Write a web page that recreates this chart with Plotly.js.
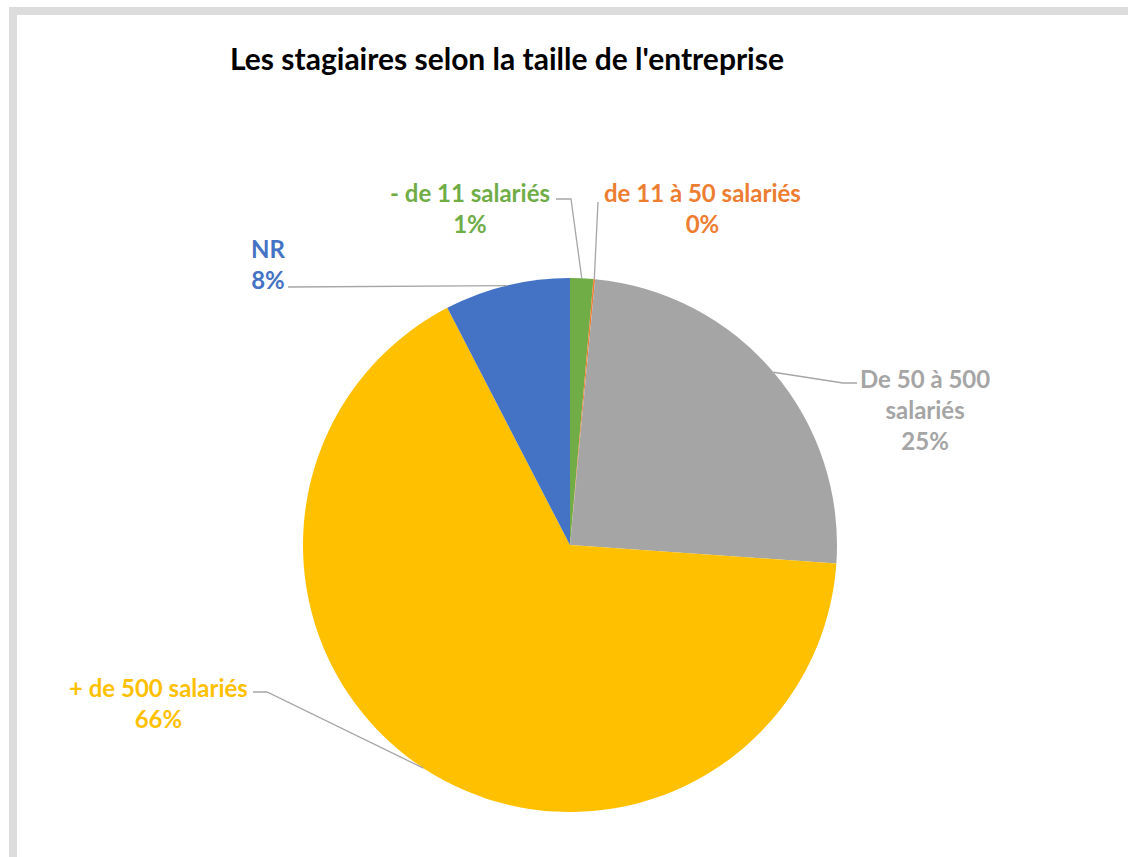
<!DOCTYPE html>
<html>
<head>
<meta charset="utf-8">
<script src="https://cdn.plot.ly/plotly-3.0.1.min.js"></script>
<style>html,body{margin:0;padding:0;background:#fff;}#chart{width:1128px;height:857px;}</style>
</head>
<body>
<div id="chart"></div>
<script>
var categories = ["- de 11 salariés", "de 11 à 50 salariés", "De 50 à 500 salariés", "+ de 500 salariés", "NR"];
var labelLines = ["- de 11 salariés", "de 11 à 50 salariés", "De 50 à 500<br>salariés", "+ de 500 salariés", "NR"];
var values = [1.4, 0.1, 24.6, 66.3, 7.6];
var colors = ["#70AD47", "#ED7D31", "#A5A5A5", "#FFC000", "#4472C4"];

var W = 1128, H = 857;
var cx = 570, cy = 545, R = 267;
// label centre positions (px) and elbow points for leader lines
var labelPos = [[470, 208], [702, 208], [925, 410], [158, 703], [268, 264]];
var elbows = [[[556, 199], [571, 199]], [[598, 202]], [[857, 383], [843, 383]], [[253, 692], [267, 692]], [[288, 287]]];

function px2x(p) { return p / W; }
function px2y(p) { return 1 - p / H; }

var total = values.reduce(function (a, b) { return a + b; }, 0);
var annotations = [];
var shapes = [];
var cum = 0;
for (var i = 0; i < values.length; i++) {
  var mid = (cum + values[i] / 2) / total * 2 * Math.PI;
  cum += values[i];
  var rx = cx + R * Math.sin(mid), ry = cy - R * Math.cos(mid);
  var pts = elbows[i].concat([[rx, ry]]);
  var path = "M " + px2x(pts[0][0]) + "," + px2y(pts[0][1]);
  for (var k = 1; k < pts.length; k++) path += " L " + px2x(pts[k][0]) + "," + px2y(pts[k][1]);
  shapes.push({type: "path", xref: "paper", yref: "paper", path: path, line: {color: "#A6A6A6", width: 1.3}});
  var pct = Math.round(values[i] / total * 100) + "%";
  annotations.push({
    xref: "paper", yref: "paper", x: px2x(labelPos[i][0]), y: px2y(labelPos[i][1]),
    xanchor: "center", yanchor: "middle", showarrow: false, align: "center",
    text: "<b>" + labelLines[i] + "<br>" + pct + "</b>",
    font: {family: "Lato, 'Open Sans', sans-serif", size: 24, color: colors[i]}
  });
}

// frame
shapes.push({type: "rect", xref: "paper", yref: "paper", layer: "below",
  x0: px2x(13), x1: px2x(1140), y0: px2y(870), y1: px2y(11),
  line: {color: "#DCDCDC", width: 8}});

var data = [{
  type: "pie",
  labels: categories,
  values: values,
  sort: false,
  direction: "clockwise",
  rotation: 0,
  textinfo: "none",
  hoverinfo: "label+percent",
  marker: {colors: colors, line: {width: 0}},
  domain: {x: [px2x(cx - R), px2x(cx + R)], y: [px2y(cy + R), px2y(cy - R)]},
  showlegend: false
}];

var layout = {
  width: W, height: H,
  margin: {l: 0, r: 0, t: 0, b: 0},
  paper_bgcolor: "#FFFFFF",
  showlegend: false,
  title: {
    text: "<b>Les stagiaires selon la taille de l'entreprise</b>",
    x: px2x(507), xanchor: "center", y: px2y(59), yanchor: "middle",
    font: {family: "Lato, 'Open Sans', sans-serif", size: 30, color: "#000000"}
  },
  annotations: annotations,
  shapes: shapes
};

Plotly.newPlot("chart", data, layout, {displayModeBar: false, staticPlot: true});
</script>
</body>
</html>
